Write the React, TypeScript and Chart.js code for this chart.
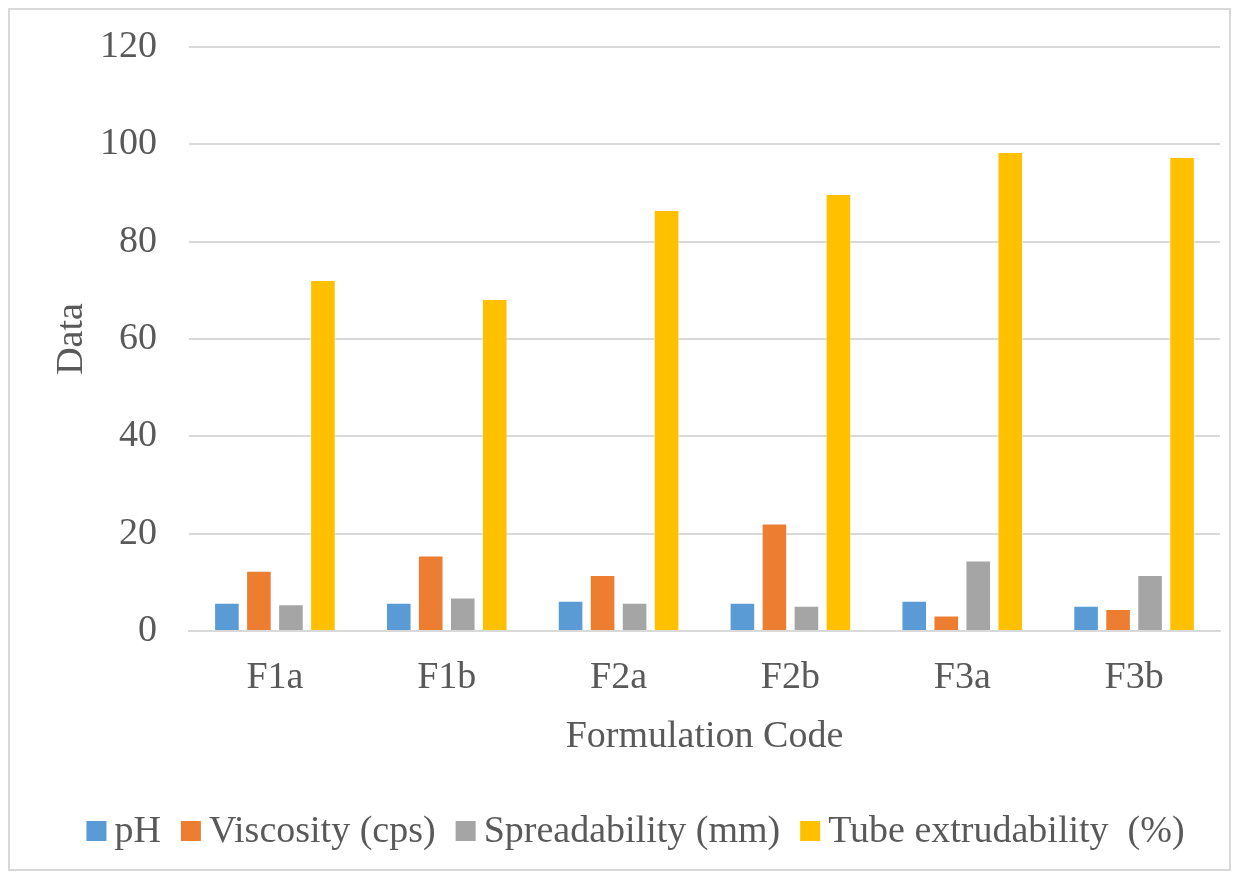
import React, { useEffect, useRef } from "react";
import { Chart, registerables } from "chart.js";

Chart.register(...registerables);

const categories = ["F1a", "F1b", "F2a", "F2b", "F3a", "F3b"];
const phValues = [5.8, 5.8, 6.2, 5.8, 6.2, 5.2];
const viscosityValues = [12.4, 15.5, 11.5, 22.1, 3.2, 4.5];
const spreadabilityValues = [5.5, 6.9, 5.8, 5.2, 14.5, 11.5];
const tubeValues = [72.1, 68.2, 86.5, 89.8, 98.4, 97.4];
const seriesNames = ["pH", "Viscosity (cps)", "Spreadability (mm)", "Tube extrudability  (%)"];
const seriesColors = ["#5B9BD5", "#ED7D31", "#A5A5A5", "#FFC000"];
const yTicks = [0, 20, 40, 60, 80, 100, 120];

const FONT = "'Liberation Serif', 'DejaVu Serif', serif";
const TEXT = "#595959";
const FS = 38;

const legendPlugin = {
  id: "customLegend",
  afterDraw(chart: any) {
    const ctx = chart.ctx;
    const xScale = chart.scales.x;
    const y = xScale.bottom + 60;
    ctx.save();
    ctx.font = `${FS}px ${FONT}`;
    ctx.textBaseline = "middle";
    ctx.textAlign = "left";
    const box = 20;
    const gapBoxText = 8;
    const gapItems = 20;
    const items = chart.data.datasets.map((d: any) => ({
      text: d.label as string,
      color: d.backgroundColor as string,
      w: ctx.measureText(d.label).width,
    }));
    const total =
      items.reduce((s: number, it: any) => s + box + gapBoxText + it.w, 0) +
      gapItems * (items.length - 1);
    let x = chart.width / 2 + 16 - total / 2;
    items.forEach((it: any) => {
      ctx.fillStyle = it.color;
      ctx.fillRect(x, y - box / 2, box, box);
      x += box + gapBoxText;
      ctx.fillStyle = TEXT;
      ctx.fillText(it.text, x, y + 1);
      x += it.w + gapItems;
    });
    ctx.restore();
  },
};

export default function App() {
  const ref = useRef<HTMLCanvasElement | null>(null);

  useEffect(() => {
    if (!ref.current) return;
    const values = [phValues, viscosityValues, spreadabilityValues, tubeValues];
    const chart = new Chart(ref.current, {
      type: "bar",
      data: {
        labels: categories,
        datasets: seriesNames.map((name, i) => ({
          label: name,
          data: values[i],
          backgroundColor: seriesColors[i],
          borderColor: "rgba(255,255,255,0.6)",
          borderWidth: 1,
          categoryPercentage: 0.745,
          barPercentage: 0.8,
        })),
      },
      plugins: [legendPlugin],
      options: {
        animation: false,
        responsive: true,
        maintainAspectRatio: false,
        layout: { autoPadding: false, padding: { left: 20, right: 9, top: 37, bottom: 98 } },
        plugins: {
          tooltip: { enabled: false },
          legend: { display: false },
        },
        scales: {
          x: {
            afterFit: (axis: any) => {
              axis.height = 140;
            },
            grid: { display: false, drawTicks: false },
            border: { display: true, color: "#d9d9d9", width: 2 },
            ticks: { font: { family: FONT, size: FS }, color: TEXT, padding: 24 },
            title: {
              display: true,
              text: "Formulation Code",
              font: { family: FONT, size: FS },
              color: TEXT,
              padding: { top: 0, bottom: 11 },
            },
          },
          y: {
            min: 0,
            max: 120,
            afterFit: (axis: any) => {
              axis.width = 159;
              axis.paddingTop = 0;
              axis.paddingBottom = 0;
            },
            afterBuildTicks: (axis: any) => {
              axis.ticks = yTicks.map((v) => ({ value: v }));
            },
            grid: { color: "#d9d9d9", lineWidth: 2, drawTicks: false },
            border: { display: false },
            ticks: { font: { family: FONT, size: FS }, color: TEXT, padding: 32 },
            title: {
              display: true,
              text: "Data",
              font: { family: FONT, size: FS },
              color: TEXT,
              padding: { top: 19, bottom: 0 },
            },
          },
        },
      },
    });
    return () => chart.destroy();
  }, []);

  return (
    <div
      style={{
        width: 1223,
        height: 863,
        border: "2px solid #d9d9d9",
        boxSizing: "border-box",
        background: "#fff",
        position: "relative",
      }}
    >
      <canvas ref={ref} />
    </div>
  );
}
